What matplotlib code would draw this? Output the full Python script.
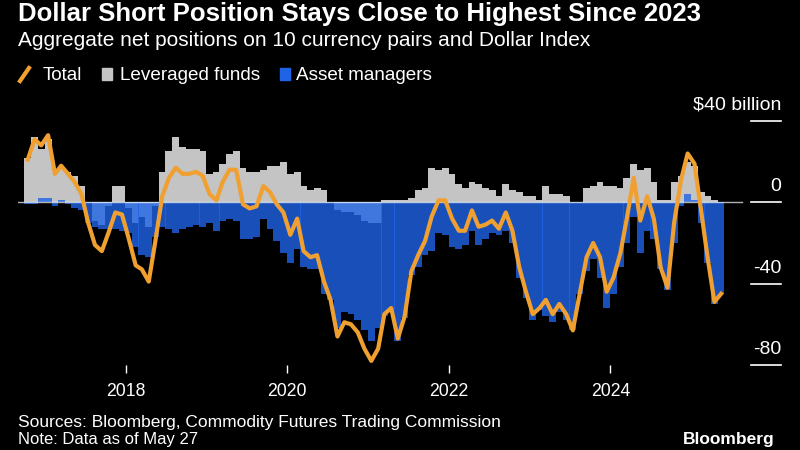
import pandas as pd
import matplotlib.pyplot as plt
from matplotlib.lines import Line2D
from matplotlib.patches import Rectangle

# monthly readings, Oct 2016 .. May 2025, $ billion
total = [21, 31, 28, 33, 14, 18, 14, 10, 4, -10,
         -21, -24, -15, -5, -6, -18, -31, -33, -39, -19,
         3, 12, 17, 14, 14, 15, 13, 4, 1, 10,
         16, 16, -1, -3, -2, 8, 5, -1, -5, -16,
         -8, -24, -27, -26, -39, -48, -66, -59, -60, -64,
         -72, -78, -72, -55, -52, -67, -56, -34, -26, -19,
         -7, 1, 1, -8, -14, -14, -4, -12, -11, -9,
         -13, -5, -14, -32, -44, -55, -52, -48, -55, -50,
         -55, -63, -45, -27, -20, -27, -44, -37, -25, -8,
         12, -9, 3, -8, -32, -42, -10, 11, 24, 19,
         -5, -27, -49, -45]
leveraged = [22, 32, 26, 31, 16, 17, 15, 13, 8, 0,
             -9, -11, -2, 8, 8, -3, -10, -7, -12, -2,
             15, 25, 32, 27, 26, 26, 25, 14, 15, 19,
             24, 25, 17, 15, 15, 16, 18, 18, 20, 14,
             15, 8, 6, 7, 6, 0, -4, -5, -5, -6,
             -9, -10, -10, 1, 1, 1, 1, 2, 6, 7,
             17, 16, 17, 14, 9, 7, 10, 9, 7, 6,
             3, 9, 6, 5, 3, 3, 1, 8, 4, 4,
             3, 0, 0, 7, 8, 10, 8, 8, 7, 12,
             19, 16, 17, 10, 1, 1, 10, 13, 20, 18,
             5, 3, 1, 0]
asset_mgr = [-1, -1, 2, 2, -2, 1, -1, -3, -4, -10,
             -12, -13, -13, -13, -14, -15, -22, -26, -27, -17,
             -12, -13, -15, -13, -12, -11, -12, -10, -14, -9,
             -8, -9, -18, -18, -17, -8, -13, -19, -25, -30,
             -23, -32, -33, -33, -45, -48, -62, -54, -55, -58,
             -63, -68, -62, -56, -53, -68, -57, -36, -32, -26,
             -24, -15, -16, -22, -23, -21, -14, -21, -18, -15,
             -16, -14, -20, -37, -47, -58, -53, -56, -59, -54,
             -58, -63, -45, -34, -28, -37, -52, -45, -32, -20,
             -7, -25, -14, -18, -33, -43, -20, -2, 4, 1,
             -10, -30, -50, -45]

years = ['2018', '2020', '2022', '2024']
ytick_vals = [40, 0, -40, -80]
ytick_labels = ['$40 billion', '0', '-40', '-80']

orange = '#f0a030'
gray = '#c4c4c4'
blue = '#1f64e7'

plt.rcParams['font.family'] = ['Liberation Sans', 'DejaVu Sans']

dates = pd.date_range('2016-10-15', periods=len(total), freq=pd.DateOffset(months=1))

fig = plt.figure(figsize=(8, 4.5), dpi=100, facecolor='black')
ax = fig.add_axes([18/800, 1 - 373/450, 763/800, (373 - 110)/450])
ax.set_facecolor('black')

ax.bar(dates, leveraged, width=31, color=gray, linewidth=0, zorder=2)
ax.bar(dates, asset_mgr, width=31, color=blue, alpha=0.8, linewidth=0, zorder=3)
ax.plot([0, 0.949], [0, 0], transform=ax.get_yaxis_transform(),
        color='white', lw=1, alpha=0.7, zorder=4)
ax.plot(dates, total, color=orange, lw=3, zorder=5, solid_joinstyle='round')

ax.set_xlim(pd.Timestamp('2016-09-01'), pd.Timestamp('2026-02-10'))
ax.set_ylim(-83.96, 45.4)

for v, lab in zip(ytick_vals, ytick_labels):
    ax.plot([0.9607, 1.0], [v, v], transform=ax.get_yaxis_transform(),
            color='white', lw=1.2, clip_on=False)
    ax.annotate(lab, xy=(1.0, v), xycoords=ax.get_yaxis_transform(),
                xytext=(0, 8), textcoords='offset points', ha='right',
                va='baseline', color='white', fontsize=14)

ax.set_xticks([pd.Timestamp(y + '-01-01') for y in years])
ax.set_xticklabels(years)
ax.tick_params(axis='x', colors='white', direction='in', length=6, width=1,
               pad=7.5, labelsize=12.7)
ax.tick_params(axis='y', left=False, labelleft=False)
for s in ax.spines.values():
    s.set_visible(False)


def fx(x):
    return x / 800


def fy(y):
    return 1 - y / 450


fig.text(fx(18), fy(21), 'Dollar Short Position Stays Close to Highest Since 2023',
         fontsize=18.5, fontweight='bold', color='white', va='baseline')
fig.text(fx(18), fy(46), 'Aggregate net positions on 10 currency pairs and Dollar Index',
         fontsize=15, color='white', va='baseline')

# legend
fig.add_artist(Line2D([fx(20), fx(29)], [fy(81), fy(68)], color=orange, lw=3,
                      transform=fig.transFigure))
fig.text(fx(43), fy(80), 'Total', fontsize=13.6, color='white', va='baseline')
fig.add_artist(Rectangle((fx(102), fy(80)), 10/800, 12/450, color=gray,
                         transform=fig.transFigure))
fig.text(fx(120), fy(80), 'Leveraged funds', fontsize=13.6, color='white', va='baseline')
fig.add_artist(Rectangle((fx(280), fy(80)), 10/800, 12/450, color=blue,
                         transform=fig.transFigure))
fig.text(fx(296), fy(80), 'Asset managers', fontsize=13.6, color='white', va='baseline')

fig.text(fx(18), fy(427), 'Sources: Bloomberg, Commodity Futures Trading Commission',
         fontsize=12.5, color='white', va='baseline')
fig.text(fx(18), fy(444), 'Note: Data as of May 27', fontsize=12, color='white',
         va='baseline')
fig.text(fx(775), fy(444), 'Bloomberg', fontsize=12.5, fontweight='bold',
         color='white', ha='right', va='baseline')

fig.savefig('out.png', dpi=100, facecolor='black')
